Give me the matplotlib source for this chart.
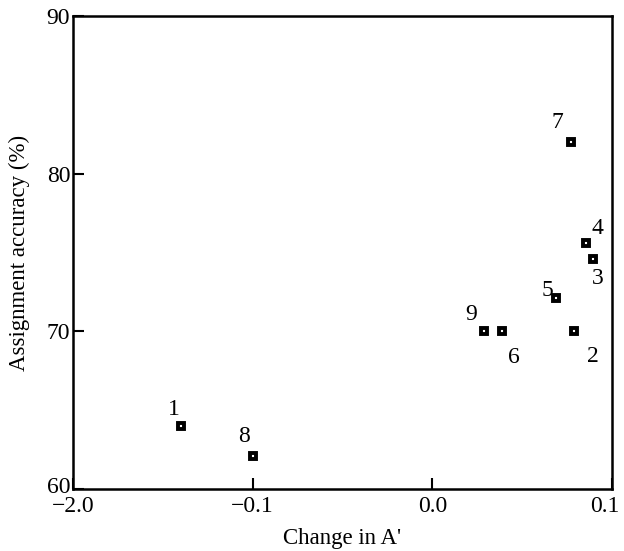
import matplotlib
matplotlib.use("Agg")
import matplotlib.pyplot as plt
from matplotlib.transforms import ScaledTranslation

labels = ["1", "2", "3", "4", "5", "6", "7", "8", "9"]
change_a = [-0.140, 0.079, 0.0895, 0.0855, 0.069, 0.039, 0.077, -0.100, 0.029]
accuracy = [64.0, 70.0, 74.6, 75.6, 72.1, 70.0, 82.0, 62.1, 70.0]
# label offsets in points (dx, dy)
label_offsets = {
    "1": (-5, 11.5), "2": (13.7, -18), "3": (3.6, -14.4), "4": (8, 10.8),
    "5": (-6.5, 5.8), "6": (8, -18.7), "7": (-9.4, 14.4), "8": (-6.5, 13.7),
    "9": (-9.4, 12.2),
}
xticks = [-0.2, -0.1, 0.0, 0.1]
xtick_labels = ["\u22122.0", "\u22120.1", "0.0", "0.1"]
yticks = [60, 70, 80, 90]

plt.rcParams['font.family'] = ['Liberation Serif', 'DejaVu Serif']

fig = plt.figure(figsize=(6.24, 5.51), dpi=100)
ax = fig.add_axes([73/624, 1 - 489/551, (612-73)/624, (489-16)/551])

ax.plot(change_a, accuracy, linestyle='none', marker='s', markersize=5,
        markerfacecolor='white', markeredgecolor='black', markeredgewidth=2.8)
for lab, x, y in zip(labels, change_a, accuracy):
    dx, dy = label_offsets[lab]
    ax.annotate(lab, (x, y), xytext=(dx, dy), textcoords='offset points',
                ha='center', va='center', fontsize=17)

ax.set_xlim(-0.2, 0.1)
ax.set_ylim(60, 90)
ax.set_xticks(xticks)
ax.set_xticklabels(xtick_labels)
ax.set_yticks(yticks)
ax.tick_params(direction='in', length=8, width=1.5, labelsize=17)
ax.tick_params(axis='x', pad=5)
ax.tick_params(axis='y', pad=2)
for s in ax.spines.values():
    s.set_linewidth(1.8)

# nudge the last x tick label left so it stays inside the figure
last = ax.get_xticklabels()[-1]
last.set_transform(last.get_transform() + ScaledTranslation(-7/100, 0, fig.dpi_scale_trans))
# nudge the lowest y tick label up, as in the reference
first_y = ax.get_yticklabels()[0]
first_y.set_transform(first_y.get_transform() + ScaledTranslation(0, 4/100, fig.dpi_scale_trans))

ax.set_xlabel("Change in A'", fontsize=16.5)
ax.set_ylabel("Assignment accuracy (%)", fontsize=16.5)
ax.xaxis.set_label_coords(0.499, -0.082)
ax.yaxis.set_label_coords(-0.080, 0.5)

fig.savefig("out.png", dpi=100)
